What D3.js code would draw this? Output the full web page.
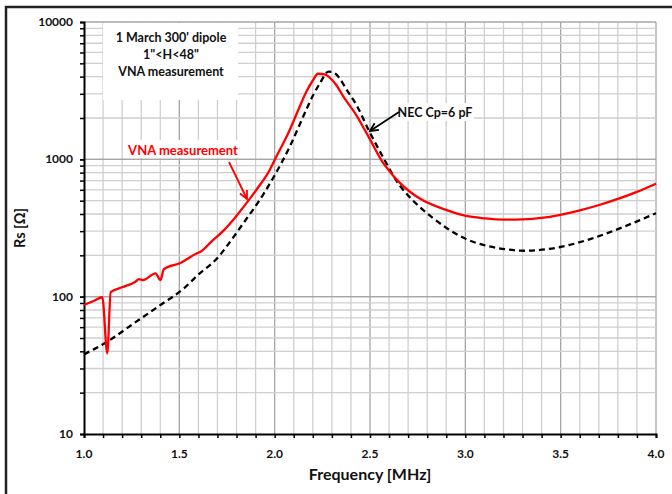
<!DOCTYPE html>
<html><head><meta charset="utf-8">
<script src="https://cdn.jsdelivr.net/npm/d3@7"></script>
<style>body{margin:0;background:#fff}svg{display:block}text{font-family:Lato,"Open Sans",sans-serif;font-weight:bold}</style>
</head><body>
<svg id="c" width="672" height="494"></svg>
<script>
// VNA measurement (red)
const redF = [1.00,1.05,1.096,1.122,1.14,1.20,1.27,1.288,1.31,1.375,1.401,1.419,1.506,1.593,1.611,1.672,1.729,1.782,1.852,1.904,1.974,2.00,2.079,2.131,2.166,2.20,2.227,2.262,2.30,2.323,2.358,2.428,2.497,2.567,2.602,2.654,2.759,2.899,3.004,3.10,3.20,3.30,3.40,3.492,3.60,3.702,3.80,3.90,4.00];
const redV = [87,93,99,38.7,108,117,128.5,134,132,148,132,159,176,207,212,255,300,362,480,600,836,989,1637,2415,3100,3750,4200,4150,3800,3475,2900,2100,1420,950,820,680,520,428,387,372,364,366,375,393,425,465,515,580,665];
// NEC Cp=6 pF (black dashed)
const necF = [1.00,1.122,1.262,1.401,1.524,1.607,1.672,1.712,1.747,1.86,1.886,1.991,2.079,2.166,2.20,2.236,2.283,2.30,2.323,2.34,2.375,2.428,2.497,2.567,2.654,2.69,2.829,3.004,3.178,3.317,3.492,3.667,3.841,4.00];
const necV = [38,47,64,87,115,148,175,200,231,382,428,728,1236,2300,2900,3550,4345,4330,4150,3900,3250,2500,1589,1045,650,566,375,263,225,216,229,266,327,405];
const xTicks = [1.0,1.5,2.0,2.5,3.0,3.5,4.0];
const yTicks = [10,100,1000,10000];
const infoLines = ["1 March 300' dipole", "1\"<H<48\"", "VNA measurement"];

const svg = d3.select("#c");
const x = d3.scaleLinear().domain([1,4]).range([84,656]);
const y = d3.scaleLog().domain([10,10000]).range([434,22]);

// outer frame
svg.append("path").attr("d","M6,494 L6,7 L672,7").attr("fill","none").attr("stroke","#222").attr("stroke-width",2.5);

// grid
const g = svg.append("g");
const xMinor = d3.range(11,41).map(d=>d/10);
xMinor.forEach(v=>{
  const major = Math.abs(v*2-Math.round(v*2))<1e-6;
  g.append("line").attr("x1",x(v)).attr("x2",x(v)).attr("y1",y(10000)).attr("y2",y(10))
   .attr("stroke",major?"#a6a6a6":"#cfcfcf").attr("stroke-width",1.3);
});
const yMinor = [];
[10,100,1000].forEach(dec=>{for(let k=1;k<=10;k++){ if(!(dec===10&&k===1)) yMinor.push(dec*k);} });
yMinor.forEach(v=>{
  const major = yTicks.includes(v);
  g.append("line").attr("x1",x(1)).attr("x2",x(4)).attr("y1",y(v)).attr("y2",y(v))
   .attr("stroke",major?"#a6a6a6":"#cfcfcf").attr("stroke-width",1.3);
});

// info box
svg.append("rect").attr("x",103).attr("y",23).attr("width",135).attr("height",77).attr("fill","#fff");
infoLines.forEach((t,i)=>{
  svg.append("text").attr("x",171).attr("y",42+i*17).attr("text-anchor","middle").attr("font-size",12.5).attr("fill","#111").text(t);
});

// label boxes
svg.append("rect").attr("x",124).attr("y",140).attr("width",118).attr("height",18).attr("fill","#fff");
svg.append("rect").attr("x",396).attr("y",103).attr("width",78).attr("height",18).attr("fill","#fff");

// axes
const xAxis = d3.axisBottom(x).tickValues(d3.range(10,41).map(d=>d/10)).tickSize(4).tickFormat("");
svg.append("g").attr("transform",`translate(0,${y(10)})`).call(xAxis)
  .call(s=>{s.select(".domain").attr("stroke","#000").attr("stroke-width",2);s.selectAll(".tick line").attr("stroke","#000").attr("stroke-width",1.5);});
const yAxis = d3.axisLeft(y).tickValues([10].concat(yMinor)).tickSize(4).tickFormat("");
svg.append("g").attr("transform",`translate(${x(1)},0)`).call(yAxis)
  .call(s=>{s.select(".domain").attr("stroke","#000").attr("stroke-width",2);s.selectAll(".tick line").attr("stroke","#000").attr("stroke-width",1.5);});

xTicks.forEach(v=>{
  svg.append("text").attr("x",x(v)).attr("y",458).attr("text-anchor","middle").attr("font-size",12).attr("fill","#111").text(v.toFixed(1));
});
yTicks.forEach(v=>{
  svg.append("text").attr("x",73).attr("y",y(v)+4).attr("text-anchor","end").attr("font-size",12).attr("fill","#111").text(v);
});
svg.append("text").attr("x",370).attr("y",480).attr("text-anchor","middle").attr("font-size",16).attr("fill","#111").text("Frequency [MHz]");
svg.append("text").attr("transform","translate(25,228) rotate(-90)").attr("text-anchor","middle").attr("font-size",14.5).attr("fill","#111").text("Rs [Ω]");

// curves
const line = d3.line().x(d=>x(d[0])).y(d=>y(d[1])).curve(d3.curveMonotoneX);
svg.append("path").datum(necF.map((f,i)=>[f,necV[i]])).attr("d",line).attr("fill","none")
  .attr("stroke","#000").attr("stroke-width",2.3).attr("stroke-dasharray","6,4");
svg.append("path").datum(redF.map((f,i)=>[f,redV[i]])).attr("d",line).attr("fill","none")
  .attr("stroke","#ff0000").attr("stroke-width",2.3);

// annotation labels
svg.append("text").attr("x",183).attr("y",155).attr("text-anchor","middle").attr("font-size",13).attr("fill","#ff0000").text("VNA measurement");
svg.append("text").attr("x",435).attr("y",117).attr("text-anchor","middle").attr("font-size",12.5).attr("fill","#111").text("NEC Cp=6 pF");

// arrows
function arrow(x1,y1,x2,y2,col){
  svg.append("line").attr("x1",x1).attr("y1",y1).attr("x2",x2).attr("y2",y2).attr("stroke",col).attr("stroke-width",1.8);
  const a=Math.atan2(y2-y1,x2-x1), L=9, w=0.45;
  const p=[[x2,y2],[x2-L*Math.cos(a-w),y2-L*Math.sin(a-w)],[x2-L*Math.cos(a+w),y2-L*Math.sin(a+w)]];
  svg.append("path").attr("d",`M${p[1]}L${p[0]}L${p[2]}`).attr("fill","none").attr("stroke",col).attr("stroke-width",1.8);
}
arrow(229,162,247,199,"#ff0000");
arrow(399,112,370,131,"#000");
</script>
</body></html>
